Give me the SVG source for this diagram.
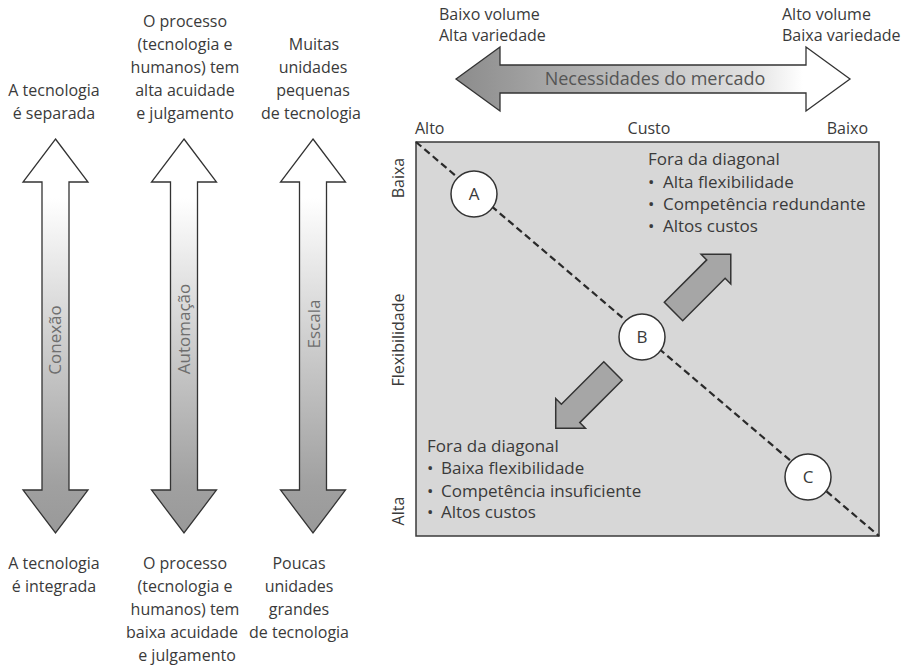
<svg xmlns="http://www.w3.org/2000/svg" width="913" height="668" viewBox="0 0 913 668">
  <style>
    .t { font-family: "Open Sans", "Noto Sans", "Liberation Sans", sans-serif; font-size: 16px; fill: #3a3a3a; }
    .n { font-family: "Open Sans", "Noto Sans", "Liberation Sans", sans-serif; font-size: 17px; fill: #3a3a3a; }
    .c { text-anchor: middle; }
    .lbl { font-family: "Open Sans", "Noto Sans", "Liberation Sans", sans-serif; font-size: 17px; fill: #6e6e6e; text-anchor: middle; }
    .varrow { fill: url(#vgrad); stroke: #333; stroke-width: 1.3; stroke-linejoin: miter; }
    .sarrow { fill: #a6a6a6; stroke: #333; stroke-width: 1.5; }
    .circ { fill: #fff; stroke: #333; stroke-width: 1.5; }
  </style>
  <defs>
    <linearGradient id="vgrad" gradientUnits="userSpaceOnUse" x1="0" y1="139" x2="0" y2="533">
      <stop offset="0" stop-color="#ffffff"/>
      <stop offset="0.15" stop-color="#ffffff"/>
      <stop offset="0.5" stop-color="#d0d0d0"/>
      <stop offset="0.88" stop-color="#a0a0a0"/>
      <stop offset="1" stop-color="#999999"/>
    </linearGradient>
    <linearGradient id="hgrad" gradientUnits="userSpaceOnUse" x1="456" y1="0" x2="850" y2="0">
      <stop offset="0" stop-color="#8c8c8c"/>
      <stop offset="0.15" stop-color="#9c9c9c"/>
      <stop offset="0.75" stop-color="#e2e2e2"/>
      <stop offset="0.88" stop-color="#ffffff"/>
      <stop offset="1" stop-color="#ffffff"/>
    </linearGradient>
    <path id="va" d="M0,139 L32.5,182 L13.5,182 L13.5,490 L32.5,490 L0,533 L-32.5,490 L-13.5,490 L-13.5,182 L-32.5,182 Z"/>
    <path id="sa" d="M0,-13 L60,-13 L60,-21 L81,0 L60,21 L60,13 L0,13 Z"/>
  </defs>

  <rect width="913" height="668" fill="#ffffff"/>

  <!-- Left column: Conexão -->
  <g id="col-conexao">
    <use href="#va" class="varrow" transform="translate(55.5,0)"/>
    <text class="lbl" transform="translate(61,340) rotate(-90)">Conexão</text>
    <text class="t c" x="54" y="96">A tecnologia</text>
    <text class="t c" x="54" y="119">é separada</text>
    <text class="t c" x="54" y="569">A tecnologia</text>
    <text class="t c" x="54" y="592">é integrada</text>
  </g>

  <!-- Middle column: Automação -->
  <g id="col-automacao">
    <use href="#va" class="varrow" transform="translate(184,0)"/>
    <text class="lbl" transform="translate(190,329) rotate(-90)">Automação</text>
    <text class="t c" x="185" y="27">O processo</text>
    <text class="t c" x="185" y="50">(tecnologia e</text>
    <text class="t c" x="185" y="73">humanos) tem</text>
    <text class="t c" x="185" y="96">alta acuidade</text>
    <text class="t c" x="185" y="119">e julgamento</text>
    <text class="t c" x="185" y="569">O processo</text>
    <text class="t c" x="185" y="592">(tecnologia e</text>
    <text class="t c" x="185" y="615">humanos) tem</text>
    <text class="t c" x="182" y="638">baixa acuidade</text>
    <text class="t c" x="187" y="661">e julgamento</text>
  </g>

  <!-- Right column: Escala -->
  <g id="col-escala">
    <use href="#va" class="varrow" transform="translate(313,0)"/>
    <text class="lbl" transform="translate(320,324) rotate(-90)">Escala</text>
    <text class="t c" x="314" y="50">Muitas</text>
    <text class="t c" x="313" y="73">unidades</text>
    <text class="t c" x="313" y="96">pequenas</text>
    <text class="t c" x="311" y="119">de tecnologia</text>
    <text class="t c" x="299" y="569">Poucas</text>
    <text class="t c" x="299" y="592">unidades</text>
    <text class="t c" x="299" y="615">grandes</text>
    <text class="t c" x="299" y="638">de tecnologia</text>
  </g>

  <!-- Market needs arrow -->
  <g id="market-needs">
    <text class="t" x="439" y="20">Baixo volume</text>
    <text class="t" x="439" y="41">Alta variedade</text>
    <text class="t" x="782" y="20">Alto volume</text>
    <text class="t" x="782" y="41">Baixa variedade</text>
    <path d="M456,79 L500,47 L500,65 L806,65 L806,47 L850,79 L806,111 L806,93 L500,93 L500,111 Z" fill="url(#hgrad)" stroke="#333" stroke-width="1.3"/>
    <text x="655" y="85" style="font-family: 'Open Sans', 'Noto Sans', 'Liberation Sans', sans-serif; font-size: 18px; fill: #555; text-anchor: middle;">Necessidades do mercado</text>
  </g>

  <!-- Matrix -->
  <g id="matrix">
    <text class="t" x="415" y="134">Alto</text>
    <text class="t c" x="649" y="134">Custo</text>
    <text class="t" x="868" y="134" text-anchor="end">Baixo</text>
    <text class="t c" transform="translate(404,340) rotate(-90)">Flexibilidade</text>
    <text class="t c" transform="translate(404,178) rotate(-90)">Baixa</text>
    <text class="t c" transform="translate(404,511) rotate(-90)">Alta</text>
    <rect x="416" y="142" width="463" height="394" fill="#d7d7d7" stroke="#3a3a3a" stroke-width="1.5"/>
  </g>

  <g id="connectors">
    <line x1="416" y1="142" x2="879" y2="536" stroke="#2a2a2a" stroke-width="2.2" stroke-dasharray="7,4"/>
    <use href="#sa" class="sarrow" transform="translate(673.5,311.5) rotate(-45)"/>
    <use href="#sa" class="sarrow" transform="translate(613,371) rotate(135)"/>
  </g>

  <g id="node-A">
    <circle class="circ" cx="474" cy="194" r="23"/>
    <text class="n c" x="474" y="200">A</text>
  </g>
  <g id="node-B">
    <circle class="circ" cx="642" cy="337" r="23"/>
    <text class="n c" x="642" y="343">B</text>
  </g>
  <g id="node-C">
    <circle class="circ" cx="808" cy="477" r="23"/>
    <text class="n c" x="808" y="483">C</text>
  </g>

  <g id="note-high">
    <text class="n" x="648" y="165">Fora da diagonal</text>
    <text class="n" x="648" y="188">•<tspan x="663">Alta flexibilidade</tspan></text>
    <text class="n" x="648" y="210">•<tspan x="663">Competência redundante</tspan></text>
    <text class="n" x="648" y="232">•<tspan x="663">Altos custos</tspan></text>
  </g>
  <g id="note-low">
    <text class="n" x="427" y="452">Fora da diagonal</text>
    <text class="n" x="427" y="474">•<tspan x="441">Baixa flexibilidade</tspan></text>
    <text class="n" x="427" y="497">•<tspan x="441">Competência insuficiente</tspan></text>
    <text class="n" x="427" y="518">•<tspan x="441">Altos custos</tspan></text>
  </g>
</svg>
